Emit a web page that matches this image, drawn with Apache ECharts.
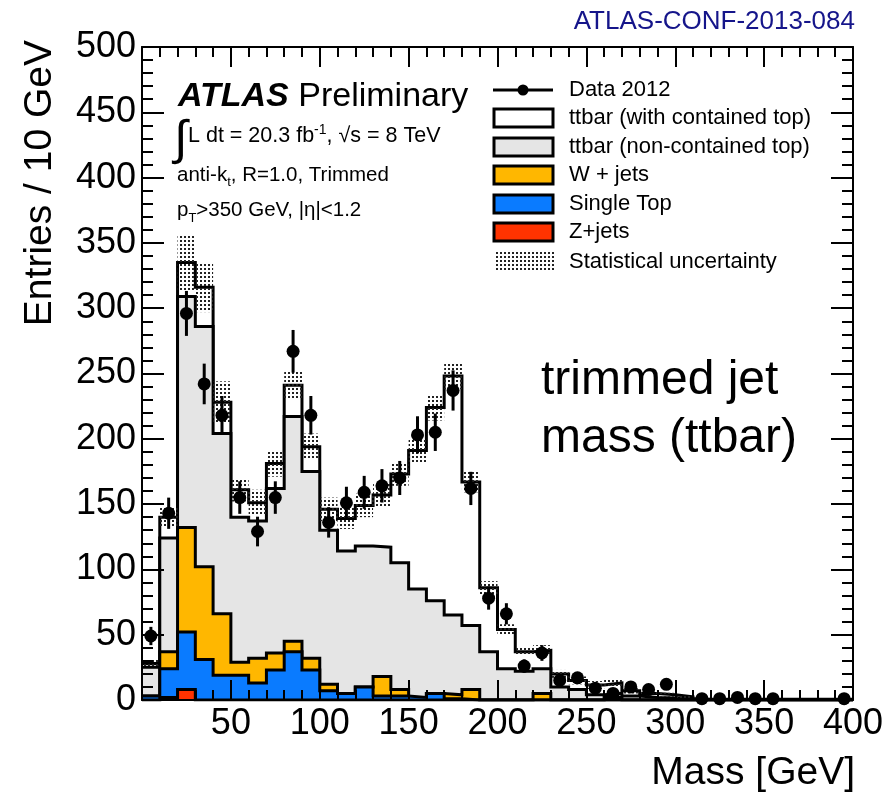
<!DOCTYPE html>
<html><head><meta charset="utf-8">
<script src="https://cdn.jsdelivr.net/npm/echarts@6/dist/echarts.min.js"></script>
<style>html,body{margin:0;padding:0;background:#fff}#c{width:890px;height:794px}</style>
</head><body><div id="c"></div>
<script>
// ---- data (entries per 10 GeV bin, 0-400 GeV) ----
const binWidth = 10;
const nBins = 40;
const xTicks = [50, 100, 150, 200, 250, 300, 350, 400];
const yTicks = [0, 50, 100, 150, 200, 250, 300, 350, 400, 450, 500];

const data2012 = [49,143,296,242,218,155,129,155,267,218,136,151,159,164,170,203,205,237,162,78,
                  66,26,36,15,17,9,5,10,8,12,0,1,1,2,1,1,0,0,0,1];
const zJets = [0,2,8,0,0,0,0,0,0,0,0,0,0,0,0,0,0,0,0,0,
               0,0,0,0,0,0,0,0,0,0,0,0,0,0,0,0,0,0,0,0];
const singleTop = [3,22,44,31,19,19,13,23,37,23,7,5,10,3,3,2,5,1,0,0,
                   0,0,0,0,0,0,0,0,0,0,0,0,0,0,0,0,0,0,0,0];
const wJets = [0,13,80,71,47,10,19,13,8,9,5,0,0,15,5,0,0,3,8,0,
               0,0,5,0,0,0,2,0,0,0,0,0,0,0,0,0,0,0,0,0];
const ttNonContained = [22,87,177,184,138,111,105,126,172,143,118,109,108,99,97,83,71,61,49,37,
                        24,22,19,10,8,4,3,3,2,1.5,1,0.3,0.3,0.3,0.3,0.3,0.3,0.3,0.3,0.3];
const ttContained = [3,16,26,30,24,21,14,19,24,19,16,25,31,40,68,106,148,183,110,49,
                     30,15,14,10,7,7.5,8,4,3,2.5,1.5,0.3,0.3,0.3,0.3,0.3,0.3,0.3,0.3,0.3];
const statErr = [3,8,21,19,16,9,10,10,11,10,9,8,9,9,9,9,10,10,8,5,
                 4,3,4,3,3,3,3,2,2,1.5,1,0.5,0.5,0.5,0.5,0.5,0.5,0.5,0.5,0.5];

// ---- cumulative stacks ----
function addArr(a, b) { return a.map((v, i) => v + b[i]); }
const cZ = zJets.slice();
const cST = addArr(cZ, singleTop);
const cW = addArr(cST, wJets);
const cNC = addArr(cW, ttNonContained);
const cTot = addArr(cNC, ttContained);

function stepData(vals) {
  const d = vals.map((v, i) => [i * binWidth, v]);
  d.push([nBins * binWidth, vals[vals.length - 1]]);
  return d;
}

const FONT = '"Liberation Sans", Arial, sans-serif';
const C_W = '#ffb700', C_ST = '#0a7bff', C_Z = '#ff3300', C_NC = '#e5e5e5';

// dotted pattern for stat uncertainty
const pc = document.createElement('canvas'); pc.width = 4; pc.height = 4;
const pctx = pc.getContext('2d');
pctx.fillStyle = '#222'; pctx.fillRect(0, 0, 2, 2);
const pattern = { image: pc, repeat: 'repeat' };

function histSeries(name, vals, color, z) {
  return {
    name, type: 'line', step: 'end', data: stepData(vals), symbol: 'none', z,
    silent: true, lineStyle: { color: '#000', width: 3, join: 'miter' },
    areaStyle: { color, opacity: 1 }
  };
}

// text helper placing parts along a baseline
const mctx = document.createElement('canvas').getContext('2d');
function textParts(x, yBase, parts) {
  const out = [];
  let cx = x;
  for (const p of parts) {
    const font = `${p.style || 'normal'} ${p.weight || 'normal'} ${p.size}px ${FONT}`;
    mctx.font = font;
    out.push({ type: 'text', x: cx, y: yBase - 0.33 * p.size + (p.dy || 0), z: 100,
      style: { text: p.t, font, fill: p.color || '#000', align: 'left', verticalAlign: 'middle' } });
    cx += mctx.measureText(p.t).width;
  }
  return out;
}

const legendRows = [
  { label: 'Data 2012', kind: 'data', y: 90 },
  { label: 'ttbar (with contained top)', kind: 'box', color: '#fff', y: 118 },
  { label: 'ttbar (non-contained top)', kind: 'box', color: C_NC, y: 147 },
  { label: 'W + jets', kind: 'box', color: C_W, y: 175 },
  { label: 'Single Top', kind: 'box', color: C_ST, y: 204 },
  { label: 'Z+jets', kind: 'box', color: C_Z, y: 232 },
  { label: 'Statistical uncertainty', kind: 'stat', y: 262 }
];
const graphics = [];
legendRows.forEach(r => {
  if (r.kind === 'data') {
    graphics.push({ type: 'line', z: 100, shape: { x1: 493, y1: r.y, x2: 553, y2: r.y }, style: { stroke: '#000', lineWidth: 3 } });
    graphics.push({ type: 'circle', z: 100, shape: { cx: 523, cy: r.y, r: 5.5 }, style: { fill: '#000' } });
  } else if (r.kind === 'box') {
    graphics.push({ type: 'rect', z: 100, shape: { x: 494, y: r.y - 9, width: 59, height: 18 }, style: { fill: r.color, stroke: '#000', lineWidth: 3 } });
  } else {
    graphics.push({ type: 'rect', z: 100, shape: { x: 494, y: r.y - 10, width: 61, height: 20 }, style: { fill: pattern } });
  }
  graphics.push({ type: 'text', z: 100, x: 569, y: r.y, style: { text: r.label, font: `22px ${FONT}`, fill: '#000', verticalAlign: 'middle' } });
});

graphics.push({ type: 'text', z: 100, x: 855, y: 22, style: { text: 'ATLAS-CONF-2013-084', font: `26px ${FONT}`, fill: '#15158a', align: 'right', verticalAlign: 'middle' } });
graphics.push(...textParts(178, 108, [{ t: 'ATLAS', size: 34, weight: 'bold', style: 'italic' }, { t: ' Preliminary', size: 34 }]));
graphics.push({ type: 'text', z: 100, x: 174, y: 141, style: { text: '∫', font: `48px ${FONT}`, fill: '#000', verticalAlign: 'middle' } });
graphics.push(...textParts(188, 143, [{ t: 'L dt = 20.3 fb', size: 21.5 }, { t: '-1', size: 14, dy: -8 }, { t: ', √s = 8 TeV', size: 21.5 }]));
graphics.push(...textParts(177, 182, [{ t: 'anti-k', size: 20.5 }, { t: 't', size: 13, dy: 5 }, { t: ', R=1.0, Trimmed', size: 20.5 }]));
graphics.push(...textParts(177, 217, [{ t: 'p', size: 20.5 }, { t: 'T', size: 13, dy: 6 }, { t: '>350 GeV, |η|<1.2', size: 20.5 }]));
graphics.push(...textParts(541, 397, [{ t: 'trimmed jet', size: 48 }]));
graphics.push(...textParts(541, 455, [{ t: 'mass (ttbar)', size: 48 }]));
graphics.push({ type: 'text', z: 100, x: 855, y: 773, style: { text: 'Mass [GeV]', font: `39px ${FONT}`, fill: '#000', align: 'right', verticalAlign: 'middle' } });
graphics.push({ type: 'text', z: 100, x: 40, y: 40, rotation: Math.PI / 2, style: { text: 'Entries / 10 GeV', font: `39px ${FONT}`, fill: '#000', align: 'right', verticalAlign: 'middle' } });

function axisCommon(showLabel, tickLen, minorLen) {
  return {
    type: 'value', z: 20,
    axisLine: { show: true, onZero: false, lineStyle: { color: '#000', width: 2 } },
    axisTick: { show: true, inside: true, length: tickLen, lineStyle: { color: '#000', width: 2 } },
    minorTick: { show: true, splitNumber: 5, length: minorLen, lineStyle: { color: '#000', width: 2 } },
    splitLine: { show: false }, minorSplitLine: { show: false },
    axisLabel: { show: showLabel, color: '#000', fontSize: 36, fontFamily: FONT }
  };
}

const option = {
  animation: false,
  backgroundColor: '#fff',
  grid: { left: 142, right: 37, top: 47, bottom: 94, outerBoundsMode: 'none' },
  xAxis: [
    Object.assign(axisCommon(true, 20, 10), { min: 0, max: 400, interval: 50, position: 'bottom',
      axisLabel: { show: true, color: '#000', fontSize: 36, fontFamily: FONT, margin: 6,
        formatter: v => xTicks.includes(v) ? String(v) : '' } }),
    Object.assign(axisCommon(false, 20, 10), { min: 0, max: 400, interval: 50, position: 'top' })
  ],
  yAxis: [
    Object.assign(axisCommon(true, 22, 11), { min: 0, max: 500, interval: 50, position: 'left',
      axisLabel: { show: true, color: '#000', fontSize: 36, fontFamily: FONT, margin: 6,
        formatter: v => yTicks.includes(v) ? String(v) : '' } }),
    Object.assign(axisCommon(false, 22, 11), { min: 0, max: 500, interval: 50, position: 'right' })
  ],
  graphic: graphics,
  series: [
    histSeries('ttbar (with contained top)', cTot, '#ffffff', 2),
    histSeries('ttbar (non-contained top)', cNC, C_NC, 3),
    histSeries('W + jets', cW, C_W, 4),
    histSeries('Single Top', cST, C_ST, 5),
    histSeries('Z+jets', cZ, C_Z, 6),
    {
      name: 'Statistical uncertainty', type: 'custom', z: 7, silent: true,
      data: statErr.map((e, i) => [i, Math.max(0, cTot[i] - e), cTot[i] + e]),
      encode: { x: 0, y: [1, 2] },
      renderItem: (params, api) => {
        const i = api.value(0);
        const p1 = api.coord([i * binWidth, api.value(2)]);
        const p2 = api.coord([(i + 1) * binWidth, api.value(1)]);
        return { type: 'rect', shape: { x: p1[0], y: p1[1], width: p2[0] - p1[0], height: p2[1] - p1[1] },
          style: { fill: pattern } };
      }
    },
    {
      name: 'Data err', type: 'custom', z: 8, silent: true,
      data: data2012.map((n, i) => [(i + 0.5) * binWidth, n]).filter(d => d[1] > 0),
      encode: { x: 0, y: 1 },
      renderItem: (params, api) => {
        const x = api.value(0), n = api.value(1), e = Math.sqrt(n);
        const a = api.coord([x, n + e]), b = api.coord([x, Math.max(0, n - e)]);
        return { type: 'line', shape: { x1: a[0], y1: a[1], x2: b[0], y2: b[1] }, style: { stroke: '#000', lineWidth: 3 } };
      }
    },
    {
      name: 'Data 2012', type: 'scatter', z: 9, silent: true, symbolSize: 13,
      itemStyle: { color: '#000', opacity: 1 },
      data: data2012.map((n, i) => [(i + 0.5) * binWidth, n]).filter(d => d[1] > 0)
    }
  ]
};
const chart = echarts.init(document.getElementById('c'), null, { renderer: 'canvas' });
chart.setOption(option);
</script>
</body></html>
